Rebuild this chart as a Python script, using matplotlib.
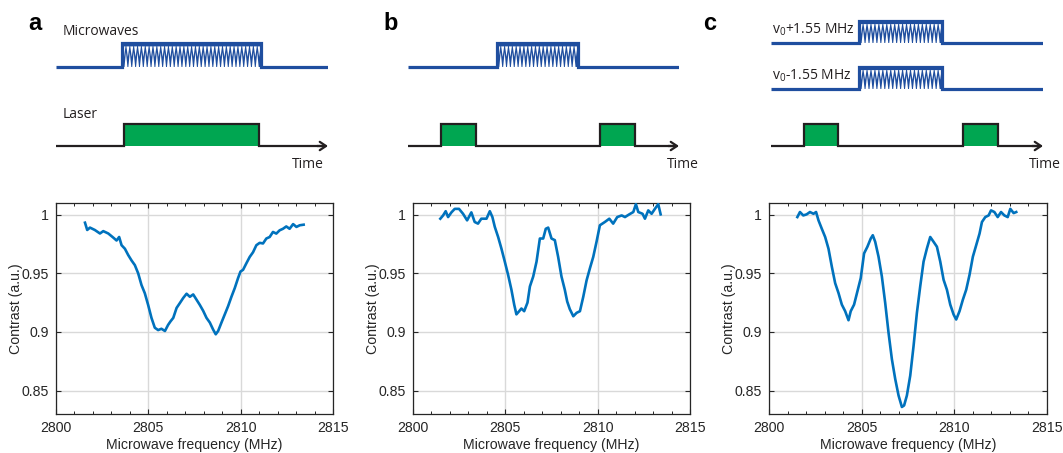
import numpy as np
import matplotlib
matplotlib.use("Agg")
import matplotlib.pyplot as plt
from matplotlib.patches import Polygon, Rectangle

# ---------------- data ----------------
freq_a = [2801.57, 2801.69, 2801.84, 2802.10, 2802.38, 2802.56, 2802.83, 2803.10, 2803.28, 2803.42,
          2803.55, 2803.73, 2803.91, 2804.09, 2804.27, 2804.45, 2804.63, 2804.81, 2804.99, 2805.17,
          2805.35, 2805.53, 2805.71, 2805.90, 2806.07, 2806.20, 2806.35, 2806.53, 2806.71, 2806.89,
          2807.07, 2807.25, 2807.43, 2807.61, 2807.79, 2807.97, 2808.15, 2808.33, 2808.51, 2808.65,
          2808.78, 2808.96, 2809.14, 2809.32, 2809.50, 2809.68, 2809.86, 2809.99, 2810.13, 2810.31,
          2810.49, 2810.67, 2810.85, 2811.03, 2811.21, 2811.39, 2811.57, 2811.75, 2811.93, 2812.11,
          2812.29, 2812.47, 2812.65, 2812.84, 2813.02, 2813.20, 2813.41]
contrast_a = [0.9932, 0.987, 0.989, 0.987, 0.984, 0.986, 0.984, 0.9805, 0.978, 0.981,
              0.974, 0.971, 0.9656, 0.961, 0.957, 0.950, 0.940, 0.933, 0.923, 0.912,
              0.9036, 0.9016, 0.9027, 0.9008, 0.906, 0.909, 0.912, 0.9205, 0.9247, 0.929,
              0.9326, 0.930, 0.932, 0.9275, 0.923, 0.918, 0.912, 0.908, 0.902, 0.898,
              0.9008, 0.908, 0.915, 0.922, 0.930, 0.9374, 0.946, 0.9515, 0.953, 0.9586,
              0.964, 0.968, 0.974, 0.976, 0.9755, 0.9797, 0.981, 0.9853, 0.9839, 0.9867,
              0.988, 0.990, 0.988, 0.992, 0.9896, 0.991, 0.9915]

freq_b = [2801.48, 2801.63, 2801.77, 2801.90, 2802.08, 2802.26, 2802.49, 2802.71, 2802.93, 2803.16,
          2803.34, 2803.52, 2803.70, 2803.98, 2804.16, 2804.30, 2804.43, 2804.61, 2804.79, 2804.97,
          2805.15, 2805.33, 2805.48, 2805.60, 2805.75, 2805.87, 2806.02, 2806.20, 2806.33, 2806.51,
          2806.69, 2806.87, 2807.05, 2807.19, 2807.32, 2807.50, 2807.68, 2807.86, 2808.04, 2808.22,
          2808.35, 2808.49, 2808.68, 2808.86, 2809.04, 2809.22, 2809.40, 2809.58, 2809.76, 2809.94,
          2810.12, 2810.39, 2810.63, 2810.84, 2811.06, 2811.30, 2811.48, 2811.71, 2811.93, 2812.07,
          2812.20, 2812.43, 2812.56, 2812.74, 2812.92, 2813.10, 2813.28, 2813.41]
contrast_b = [0.9966, 0.9994, 1.003, 0.998, 1.002, 1.005, 1.005, 1.0008, 0.9952, 1.002,
              0.9938, 0.9924, 0.9966, 0.9966, 1.003, 0.998, 0.9896, 0.981, 0.971, 0.960,
              0.9487, 0.936, 0.9233, 0.915, 0.9177, 0.920, 0.9177, 0.925, 0.9388, 0.9473,
              0.960, 0.9797, 0.9797, 0.988, 0.989, 0.9797, 0.9783, 0.964, 0.9473, 0.936,
              0.926, 0.9195, 0.9134, 0.9163, 0.9177, 0.930, 0.944, 0.9543, 0.964, 0.977,
              0.991, 0.9938, 0.9966, 0.9924, 0.998, 0.9994, 0.998, 1.0003, 1.0023, 1.009,
              1.0023, 1.0008, 0.9966, 1.0037, 1.0008, 1.005, 1.009, 1.0003]

freq_c = [2801.53, 2801.67, 2801.85, 2802.03, 2802.21, 2802.40, 2802.54, 2802.67, 2802.85, 2803.03,
          2803.21, 2803.39, 2803.57, 2803.75, 2803.93, 2804.11, 2804.29, 2804.41, 2804.59, 2804.77,
          2804.95, 2805.13, 2805.31, 2805.49, 2805.60, 2805.73, 2805.91, 2806.09, 2806.27, 2806.45,
          2806.63, 2806.81, 2806.99, 2807.17, 2807.29, 2807.44, 2807.62, 2807.80, 2807.98, 2808.16,
          2808.34, 2808.52, 2808.70, 2808.88, 2809.06, 2809.24, 2809.42, 2809.60, 2809.78, 2809.96,
          2810.10, 2810.28, 2810.46, 2810.64, 2810.82, 2811.00, 2811.18, 2811.36, 2811.49, 2811.67,
          2811.85, 2811.98, 2812.16, 2812.34, 2812.52, 2812.70, 2812.88, 2813.02, 2813.20, 2813.34]
contrast_c = [0.998, 1.0023, 0.9994, 1.0003, 1.0023, 1.0008, 1.0023, 0.9952, 0.988, 0.981,
              0.971, 0.9557, 0.9416, 0.9332, 0.9233, 0.9177, 0.910, 0.9177, 0.9233, 0.9346,
              0.9459, 0.967, 0.9727, 0.9797, 0.9825, 0.9769, 0.9642, 0.9473, 0.9247, 0.8993,
              0.8768, 0.8599, 0.8458, 0.836, 0.8373, 0.8458, 0.8627, 0.888, 0.9163, 0.939,
              0.960, 0.9712, 0.981, 0.9769, 0.9727, 0.960, 0.9445, 0.936, 0.9233, 0.9149,
              0.9106, 0.9177, 0.9275, 0.936, 0.9487, 0.9642, 0.974, 0.9839, 0.9938, 0.998,
              0.9994, 1.0037, 1.0023, 0.998, 1.0023, 0.9994, 0.998, 1.005, 1.0014, 1.0023]

xticks = [2800, 2805, 2810, 2815]
yticks = [0.85, 0.9, 0.95, 1.0]
ytick_labels = ["0.85", "0.9", "0.95", "1"]
panel_labels = ["a", "b", "c"]

# pulse sequences, time in units 0..10 along each time axis
mw_pulses = {
    "a": [("Microwaves", [(2.43, 7.54)])],
    "b": [("", [(3.28, 6.27)])],
    "c": [(r"v$_{\mathregular{0}}$+1.55 MHz", [(3.24, 6.29)]),
          (r"v$_{\mathregular{0}}$-1.55 MHz", [(3.24, 6.29)])],
}
laser_pulses = {
    "a": [(2.50, 7.46)],
    "b": [(1.22, 2.51), (7.08, 8.38)],
    "c": [(1.21, 2.46), (7.06, 8.35)],
}
laser_label = {"a": "Laser", "b": "", "c": ""}
time_label = "Time"

# ---------------- figure ----------------
W, H = 1063, 453
fig = plt.figure(figsize=(W / 100, H / 100), dpi=100)
plt.rcParams["mathtext.fontset"] = "custom"
plt.rcParams["mathtext.rm"] = "Open Sans"

def px_axes(x0, y0, x1, y1):
    return fig.add_axes([x0 / W, 1 - y1 / H, (x1 - x0) / W, (y1 - y0) / H])

AXC = "#262626"
LINEC = "#0072BD"
MWC = "#1f4e9f"
GREEN = "#00a651"
BLK = "#231f20"
AXFONT = "Liberation Sans"
SCHFONT = "Open Sans"

plot_boxes = [(56, 203, 333, 414), (413, 203, 690, 414), (769, 203, 1047, 414)]
datasets = [(freq_a, contrast_a), (freq_b, contrast_b), (freq_c, contrast_c)]
for box, (f, c) in zip(plot_boxes, datasets):
    ax = px_axes(*box)
    ax.plot(f, c, color=LINEC, lw=1.9, zorder=3)
    ax.set_xlim(2800, 2815)
    ax.set_ylim(0.83, 1.01)
    ax.set_xticks(xticks)
    ax.set_xticks(np.arange(2800, 2816, 1), minor=True)
    ax.set_yticks(yticks)
    ax.set_yticklabels(ytick_labels)
    ax.grid(True, which="major", color="#d9d9d9", lw=1.0, zorder=0)
    ax.tick_params(which="major", direction="in", top=True, right=True, length=3.5,
                   width=0.8, colors=AXC, labelsize=10.2, pad=5)
    ax.tick_params(which="minor", direction="in", top=True, right=True, length=2,
                   width=0.7, colors=AXC)
    for lab in ax.get_xticklabels() + ax.get_yticklabels():
        lab.set_fontfamily(AXFONT)
    for s in ax.spines.values():
        s.set_color(AXC)
        s.set_linewidth(0.9)
    ax.set_xlabel("Microwave frequency (MHz)", fontsize=10.2, family=AXFONT, color=AXC, labelpad=2)
    ax.set_ylabel("Contrast (a.u.)", fontsize=10.2, family=AXFONT, color=AXC, labelpad=-1)

# ---------------- schematics ----------------
sch_x = {"a": (56, 328), "b": (408, 679), "c": (771, 1043)}
PX_PER_LEVEL = 22.0
LASER_BASE_PX = 146.0
sch_top_px, sch_bot_px = 5, 180
mw_levels = {"a": [(3.59, 4.68)], "b": [(3.59, 4.68)], "c": [(4.68, 5.68), (2.59, 3.59)]}
mw_label_y = {"a": [4.86], "b": [None], "c": [4.90, 2.80]}
mw_label_x = {"a": 0.26, "b": 0.0, "c": 0.05}
n_teeth = {"a": 36, "b": 21, "c": 21}
time_pos = {"a": 9.26, "b": 10.15, "c": 10.07}
label_x = {"a": 28, "b": 383, "c": 703}

def draw_mw(ax, t0, t1, base, top, n):
    h = top - base
    ax.add_patch(Rectangle((t0, base), t1 - t0, h, facecolor=MWC, edgecolor="none", zorder=2))
    p = (t1 - t0) / n
    for i in range(n):
        cx = t0 + (i + 0.5) * p
        ax.add_patch(Polygon([(cx - 0.38 * p, top - 0.14 * h), (cx + 0.38 * p, top - 0.14 * h),
                              (cx, base + 0.42 * h)], closed=True, facecolor="white",
                             edgecolor="none", zorder=3))
    for i in range(1, n):
        cx = t0 + i * p
        ax.add_patch(Polygon([(cx - 0.38 * p, base), (cx + 0.38 * p, base),
                              (cx, base + 0.62 * h)], closed=True, facecolor="white",
                             edgecolor="none", zorder=3))
    ax.plot([0, t0, t0, t1, t1, 10], [base, base, top, top, base, base], color=MWC,
            lw=2.3, solid_joinstyle="miter", solid_capstyle="butt", zorder=4)

for k in ["a", "b", "c"]:
    xs, xe = sch_x[k]
    ax = px_axes(xs, sch_top_px, xe, sch_bot_px)
    ax.set_xlim(0, 10)
    ax.set_ylim((LASER_BASE_PX - sch_bot_px) / PX_PER_LEVEL, (LASER_BASE_PX - sch_top_px) / PX_PER_LEVEL)
    ax.axis("off")
    for (label, pulses), (base, top), ly in zip(mw_pulses[k], mw_levels[k], mw_label_y[k]):
        for (t0, t1) in pulses:
            draw_mw(ax, t0, t1, base, top, n_teeth[k])
        if label:
            ax.text(mw_label_x[k], ly, label, fontsize=10, family=SCHFONT, color=BLK,
                    ha="left", va="bottom")
    xs_l, ys_l = [0], [0]
    for (t0, t1) in laser_pulses[k]:
        ax.add_patch(Rectangle((t0, 0), t1 - t0, 1, facecolor=GREEN, edgecolor="none", zorder=2))
        xs_l += [t0, t0, t1, t1]
        ys_l += [0, 1, 1, 0]
    xs_l.append(9.8)
    ys_l.append(0)
    ax.plot(xs_l, ys_l, color=BLK, lw=1.6, solid_joinstyle="miter", zorder=4)
    ax.annotate("", xy=(10.0, 0), xytext=(9.6, 0),
                arrowprops=dict(arrowstyle="->,head_length=0.45,head_width=0.3", lw=1.6,
                                color=BLK, shrinkA=0, shrinkB=0), zorder=5)
    if laser_label[k]:
        ax.text(0.26, 1.1, laser_label[k], fontsize=10, family=SCHFONT, color=BLK,
                ha="left", va="bottom")
    ax.text(time_pos[k], -0.82, time_label, fontsize=10, family=SCHFONT, color=BLK,
            ha="center", va="center", clip_on=False)

for k, lab in zip(["a", "b", "c"], panel_labels):
    fig.text(label_x[k] / W, 1 - 23 / H, lab, fontsize=17, fontweight="bold",
             family=AXFONT, ha="left", va="center", color="black")

fig.savefig("out.png", dpi=100)
